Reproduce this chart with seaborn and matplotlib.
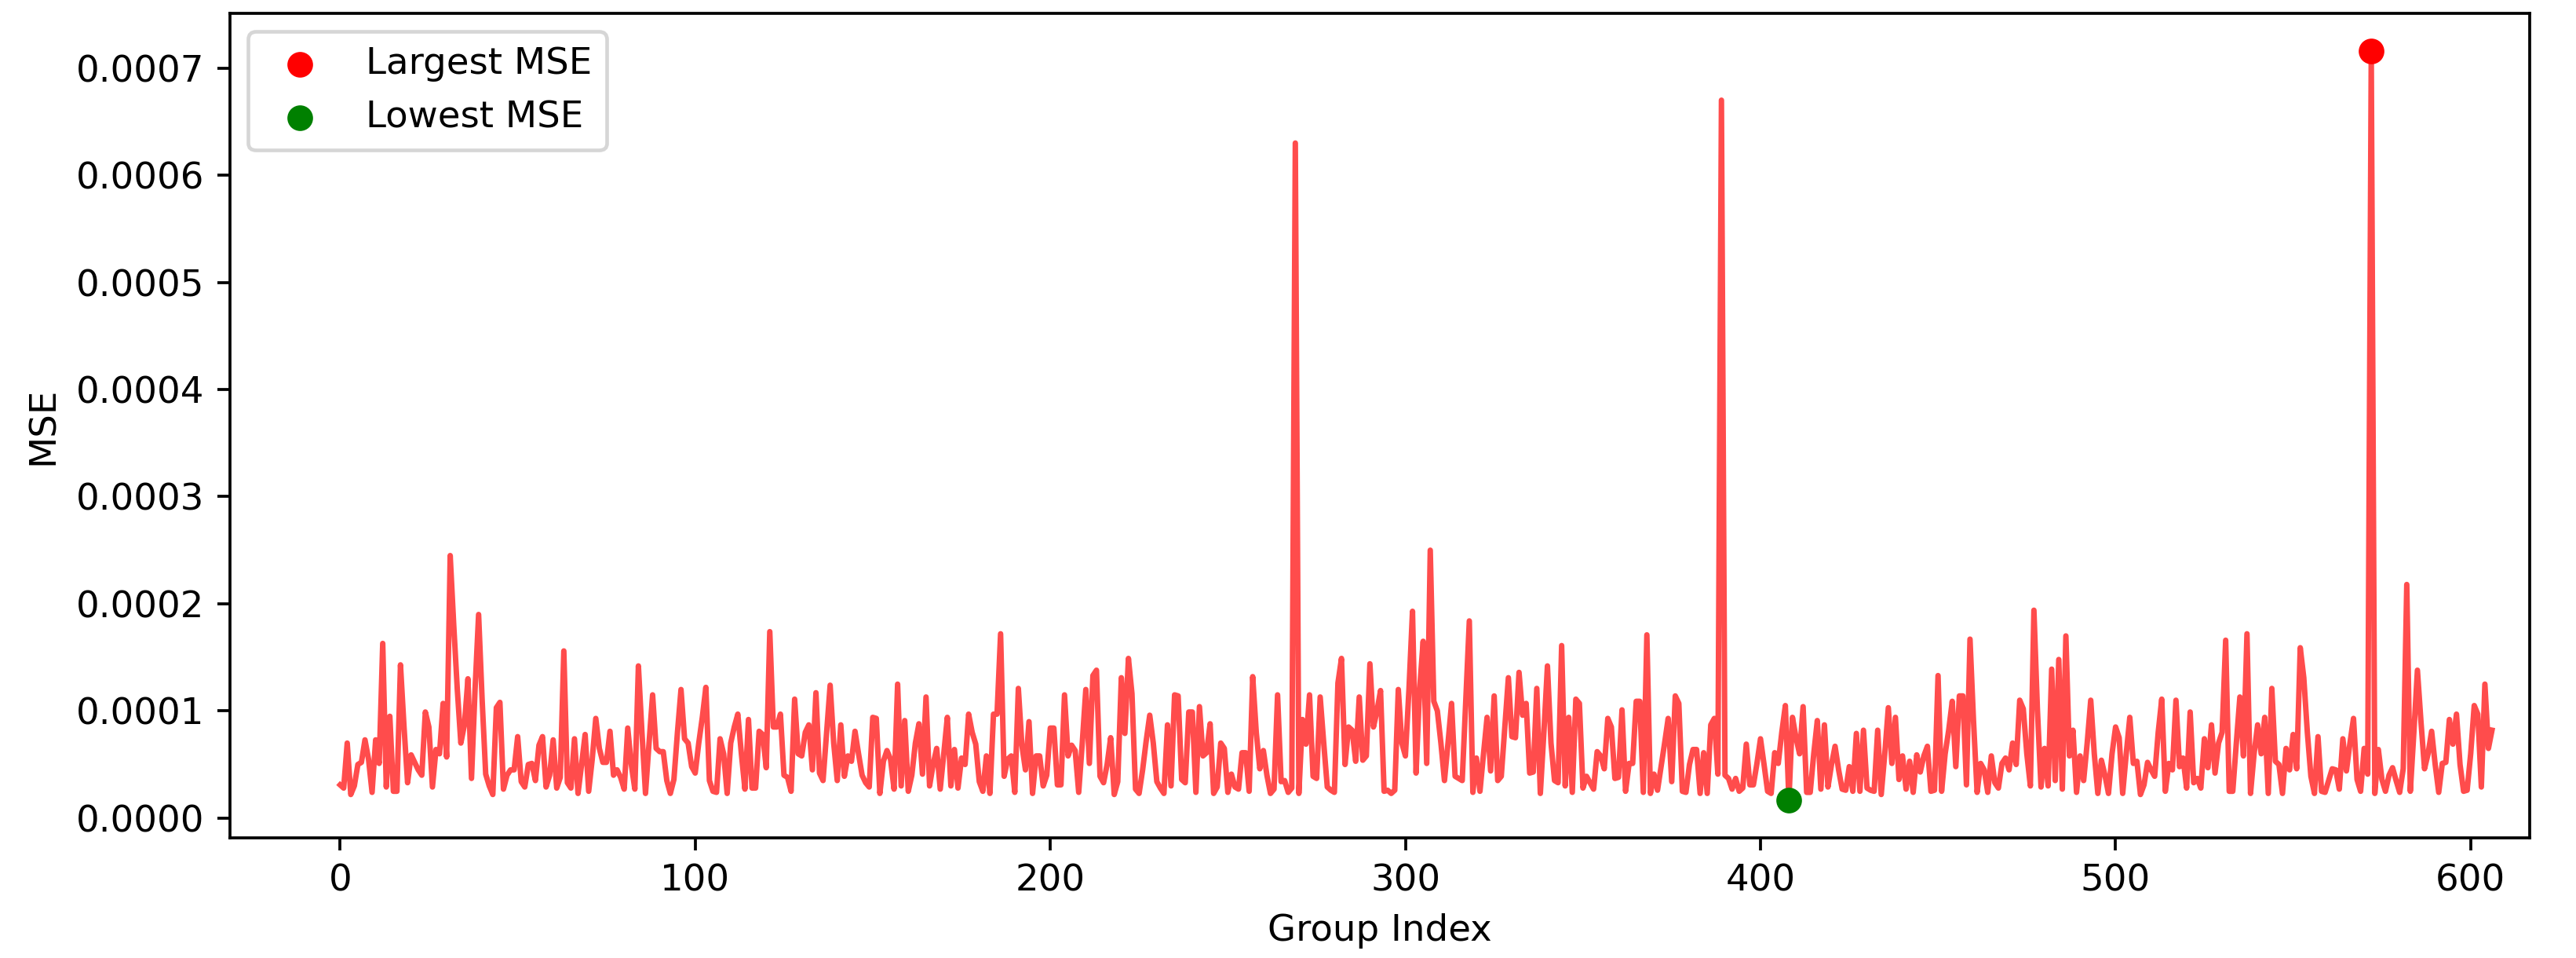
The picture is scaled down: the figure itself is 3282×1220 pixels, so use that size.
import numpy as np
import pandas as pd
import matplotlib
matplotlib.use("Agg")
import matplotlib.pyplot as plt
import seaborn as sns

# MSE per group, in units of 1e-4
mse_000_049 = [0.31, 0.28, 0.70, 0.22, 0.30, 0.50, 0.52, 0.73, 0.55, 0.24,
               0.73, 0.51, 1.63, 0.29, 0.95, 0.25, 0.25, 1.43, 0.85, 0.33,
               0.59, 0.52, 0.45, 0.40, 0.99, 0.85, 0.29, 0.64, 0.60, 1.07,
               0.57, 2.45, 1.80, 1.20, 0.70, 0.87, 1.30, 0.37, 1.20, 1.90,
               1.10, 0.41, 0.30, 0.22, 1.03, 1.08, 0.27, 0.40, 0.45, 0.45]
mse_050_099 = [0.76, 0.34, 0.29, 0.50, 0.51, 0.35, 0.68, 0.76, 0.29, 0.40,
               0.73, 0.28, 0.38, 1.56, 0.33, 0.28, 0.74, 0.23, 0.50, 0.78,
               0.25, 0.55, 0.93, 0.65, 0.52, 0.52, 0.81, 0.40, 0.45, 0.38,
               0.27, 0.84, 0.50, 0.27, 1.42, 0.80, 0.23, 0.70, 1.15, 0.65,
               0.62, 0.62, 0.35, 0.23, 0.36, 0.80, 1.20, 0.74, 0.70, 0.48]
mse_100_150 = [0.42, 0.70, 0.94, 1.22, 0.35, 0.25, 0.24, 0.74, 0.60, 0.23,
               0.70, 0.85, 0.97, 0.60, 0.27, 0.92, 0.28, 0.28, 0.81, 0.78,
               0.47, 1.74, 0.85, 0.85, 0.97, 0.40, 0.38, 0.25, 1.11, 0.60,
               0.58, 0.80, 0.87, 0.45, 1.17, 0.42, 0.35, 0.80, 1.24, 0.70,
               0.35, 0.87, 0.39, 0.58, 0.53, 0.81, 0.60, 0.40, 0.33, 0.29,
               0.94]
mse_151_200 = [0.93, 0.23, 0.53, 0.63, 0.55, 0.27, 1.25, 0.30, 0.91, 0.25,
               0.40, 0.70, 0.88, 0.41, 1.13, 0.30, 0.50, 0.65, 0.27, 0.60,
               0.94, 0.30, 0.64, 0.28, 0.56, 0.50, 0.97, 0.80, 0.69, 0.34,
               0.25, 0.58, 0.23, 0.97, 0.97, 1.72, 0.39, 0.55, 0.58, 0.24,
               1.21, 0.68, 0.45, 0.90, 0.23, 0.58, 0.58, 0.30, 0.40, 0.84]
mse_201_252 = [0.84, 0.31, 0.31, 1.15, 0.58, 0.68, 0.63, 0.24, 0.70, 1.20,
               0.51, 1.33, 1.38, 0.39, 0.33, 0.50, 0.75, 0.22, 0.34, 1.31,
               0.79, 1.49, 1.16, 0.27, 0.23, 0.45, 0.72, 0.96, 0.70, 0.34,
               0.28, 0.23, 0.87, 0.30, 1.15, 1.14, 0.36, 0.33, 0.99, 0.99,
               0.24, 1.04, 0.58, 0.61, 0.88, 0.23, 0.29, 0.70, 0.65, 0.24,
               0.41, 0.29]
mse_253_302 = [0.27, 0.61, 0.61, 0.25, 1.32, 0.80, 0.46, 0.63, 0.40, 0.23,
               0.27, 1.15, 0.34, 0.35, 0.24, 0.28, 6.30, 0.23, 0.92, 0.69,
               1.15, 0.39, 0.37, 1.13, 0.70, 0.29, 0.26, 0.24, 1.26, 1.49,
               0.50, 0.85, 0.82, 0.53, 1.13, 0.54, 0.58, 1.44, 0.85, 1.00,
               1.19, 0.25, 0.26, 0.23, 0.26, 1.20, 0.70, 0.58, 1.20, 1.93]
mse_303_353 = [0.42, 1.20, 1.65, 0.51, 2.50, 1.09, 1.00, 0.70, 0.35, 0.70,
               1.07, 0.39, 0.37, 0.35, 1.10, 1.84, 0.24, 0.56, 0.25, 0.60,
               0.94, 0.44, 1.14, 0.35, 0.39, 0.85, 1.31, 0.76, 0.75, 1.36,
               0.96, 1.07, 0.42, 0.43, 1.21, 0.23, 0.80, 1.42, 0.70, 0.35,
               0.33, 1.61, 0.30, 0.94, 0.24, 1.11, 1.07, 0.28, 0.39, 0.33,
               0.27]
mse_354_404 = [0.62, 0.58, 0.46, 0.93, 0.85, 0.37, 0.38, 1.01, 0.25, 0.51,
               0.51, 1.09, 1.09, 0.24, 1.71, 0.23, 0.41, 0.26, 0.48, 0.70,
               0.93, 0.34, 1.14, 1.07, 0.25, 0.24, 0.50, 0.64, 0.64, 0.23,
               0.61, 0.23, 0.87, 0.93, 0.41, 6.70, 0.40, 0.37, 0.27, 0.37,
               0.25, 0.28, 0.69, 0.31, 0.31, 0.51, 0.74, 0.50, 0.25, 0.23,
               0.61]
mse_405_455 = [0.51, 0.80, 1.05, 0.165, 0.94, 0.75, 0.60, 1.04, 0.24, 0.24,
               0.60, 0.91, 0.27, 0.87, 0.29, 0.50, 0.67, 0.45, 0.27, 0.26,
               0.48, 0.25, 0.79, 0.25, 0.82, 0.28, 0.26, 0.25, 0.82, 0.22,
               0.60, 1.03, 0.51, 0.94, 0.36, 0.58, 0.27, 0.53, 0.24, 0.59,
               0.43, 0.58, 0.67, 0.25, 0.26, 1.33, 0.25, 0.60, 0.82, 1.09,
               0.48]
mse_456_506 = [1.14, 1.14, 0.31, 1.67, 0.90, 0.24, 0.51, 0.45, 0.24, 0.58,
               0.33, 0.28, 0.51, 0.56, 0.45, 0.70, 0.50, 1.10, 1.02, 0.60,
               0.30, 1.94, 1.00, 0.29, 0.65, 0.30, 1.39, 0.35, 1.48, 0.27,
               1.70, 0.58, 0.82, 0.24, 0.58, 0.35, 0.70, 1.10, 0.60, 0.23,
               0.54, 0.40, 0.23, 0.60, 0.85, 0.75, 0.23, 0.60, 0.94, 0.51,
               0.53]
mse_507_556 = [0.22, 0.31, 0.52, 0.45, 0.39, 0.80, 1.11, 0.25, 0.51, 0.45,
               1.10, 0.48, 0.56, 0.28, 0.99, 0.33, 0.37, 0.28, 0.74, 0.47,
               0.87, 0.42, 0.70, 0.80, 1.66, 0.25, 0.25, 0.70, 1.13, 0.58,
               1.72, 0.23, 0.60, 0.87, 0.60, 0.94, 0.23, 1.21, 0.53, 0.50,
               0.23, 0.65, 0.45, 0.78, 0.46, 1.59, 1.31, 0.80, 0.39, 0.23]
mse_557_606 = [0.76, 0.25, 0.24, 0.35, 0.46, 0.45, 0.27, 0.74, 0.44, 0.70,
               0.93, 0.36, 0.25, 0.65, 0.41, 7.16, 0.23, 0.64, 0.36, 0.25,
               0.40, 0.47, 0.35, 0.24, 0.46, 2.18, 0.25, 0.80, 1.38, 0.90,
               0.46, 0.60, 0.81, 0.50, 0.24, 0.51, 0.52, 0.92, 0.69, 0.97,
               0.50, 0.25, 0.26, 0.60, 1.05, 0.97, 0.29, 1.25, 0.65, 0.82]

chunks = [mse_000_049, mse_050_099, mse_100_150, mse_151_200, mse_201_252,
          mse_253_302, mse_303_353, mse_354_404, mse_405_455, mse_456_506,
          mse_507_556, mse_557_606]
mse = np.concatenate([np.array(c) for c in chunks]) * 1e-4
df = pd.DataFrame({"Group Index": np.arange(len(mse)), "MSE": mse})

i_max = int(df["MSE"].idxmax())
i_min = int(df["MSE"].idxmin())

DPI = 336
fig, ax = plt.subplots(figsize=(3282 / DPI, 1220 / DPI), dpi=DPI)
fig.subplots_adjust(left=0.0893, right=0.982, bottom=0.1254, top=0.986)

sns.lineplot(data=df, x="Group Index", y="MSE", color="red", alpha=0.7, ax=ax)
ax.scatter(df.loc[i_max, "Group Index"], df.loc[i_max, "MSE"], color="red", label="Largest MSE", zorder=3)
ax.scatter(df.loc[i_min, "Group Index"], df.loc[i_min, "MSE"], color="green", label="Lowest MSE", zorder=3)

ax.set_xlim(-31, 616.6)
ax.set_xlabel("Group Index")
ax.set_ylabel("MSE")
ax.legend(loc="upper left")

fig.savefig("out.png", dpi=DPI)
